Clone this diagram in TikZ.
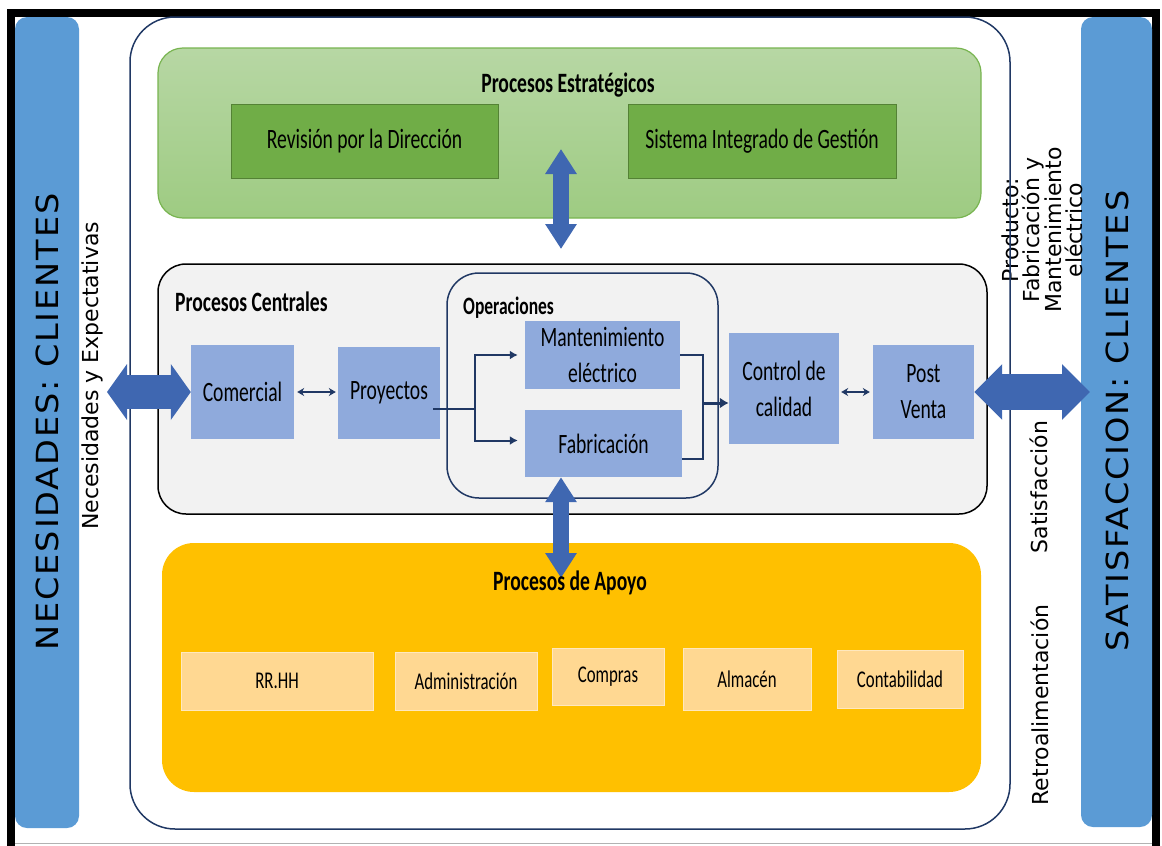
\documentclass[tikz,border=0pt]{standalone}
\usepackage{fontspec}
\setmainfont{Carlito}[FakeStretch=0.7]
\newfontfamily\sidefont{DejaVu Sans}
\newfontfamily\bandfont{DejaVu Sans}[FakeStretch=1.1,LetterSpace=6]
\usetikzlibrary{arrows.meta,positioning,calc}

\definecolor{bandblue}{RGB}{91,155,213}
\definecolor{arrowblue}{RGB}{63,103,177}
\definecolor{linenavy}{RGB}{32,56,100}
\definecolor{stratlight}{RGB}{183,215,164}
\definecolor{stratdark}{RGB}{158,203,130}
\definecolor{stratedge}{RGB}{120,180,80}
\definecolor{stratbox}{RGB}{112,173,71}
\definecolor{stratboxedge}{RGB}{84,130,53}
\definecolor{coregray}{RGB}{242,242,242}
\definecolor{procblue}{RGB}{143,170,220}
\definecolor{supyellow}{RGB}{255,192,0}
\definecolor{suppeach}{RGB}{255,216,146}

\newcommand\boxfont{\fontsize{28}{36}\selectfont}
\newcommand\smallboxfont{\fontsize{24}{30}\selectfont}

\tikzset{
  proc/.style={fill=procblue, inner sep=0pt, align=center, font=\boxfont},
  strat/.style={fill=stratbox, draw=stratboxedge, line width=1pt, inner sep=0pt, font=\boxfont},
  apoyo/.style={fill=suppeach, draw=suppeach!60!white, line width=1pt, inner sep=0pt, font=\smallboxfont},
  title/.style={font=\boxfont\bfseries, inner sep=0pt},
  sidetxt/.style={rotate=90, font=\sidefont\fontsize{22}{21}\selectfont, align=center, inner sep=0pt},
  band/.style={rotate=90, font=\bandfont\fontsize{30.5}{32}\selectfont, inner sep=0pt},
  bigarrow/.style={arrowblue, line width=#1},
  conn/.style={linenavy, line width=2pt},
}

\begin{document}
\begin{tikzpicture}[x=1pt, y=-1pt]
  \useasboundingbox (0,0) rectangle (1162,846);

  % frame
  \draw[gray!60, line width=1pt] (15,843.5) -- (1152,843.5);
  \draw[line width=8pt] (11,846) -- (11,12.5) -- (1156,12.5) -- (1156,846);

  % customer bands
  \fill[bandblue, rounded corners=12pt] (15,17) rectangle (79,828);
  \fill[bandblue, rounded corners=12pt] (1081,17) rectangle (1152,827);
  \node[band] (necesidades) at (47,422) {NECESIDADES: CLIENTES};
  \node[band] (satisfaccion) at (1117,421) {SATISFACCION: CLIENTES};

  % side labels
  \node[sidetxt] (expectativas) at (92,376) {Necesidades y Expectativas};
  \node[sidetxt] (producto) at (1042,230) {Producto:\\Fabricación y\\Mantenimiento\\eléctrico};
  \node[sidetxt] (satisf) at (1039,487) {Satisfacción};
  \node[sidetxt] (retro) at (1040,705) {Retroalimentación};

  % process map frame
  \draw[linenavy, line width=1.5pt, rounded corners=45pt] (130,17) rectangle (1010,829);

  % strategic processes
  \path[draw=stratedge, line width=1.2pt, top color=stratlight, bottom color=stratdark,
    rounded corners=25pt] (158,48) rectangle (981,218);
  \node[title] (estrategicos) at (568,85) {Procesos Estratégicos};
  \node[strat, minimum width=267pt, minimum height=74pt] (revision) at (364.5,141) {Revisión por la Dirección};
  \node[strat, minimum width=268pt, minimum height=74pt] (sig) at (762,141) {Sistema Integrado de Gestión};

  % core processes
  \draw[fill=coregray, line width=1.5pt, rounded corners=28pt] (158,264) rectangle (987,514);
  \node[title, anchor=west] (centrales) at (175,302) {Procesos Centrales};
  \draw[linenavy, line width=1.5pt, rounded corners=32pt] (447,273) rectangle (718,498);
  \node[title, anchor=west, font=\fontsize{25}{30}\selectfont\bfseries] (operaciones) at (463,308) {Operaciones};

  \node[proc, minimum width=103pt, minimum height=94pt] (comercial) at (242.5,392) {Comercial};
  \node[proc, minimum width=102pt, minimum height=92pt] (proyectos) at (389,393) {Proyectos};
  \node[proc, minimum width=155pt, minimum height=68pt] (mant) at (602.5,355) {Mantenimiento\\eléctrico};
  \node[proc, minimum width=157pt, minimum height=67pt] (fabric) at (603.5,443.5) {Fabricación};
  \node[proc, minimum width=110pt, minimum height=111pt] (control) at (784,388.5) {Control de\\calidad};
  \node[proc, minimum width=101pt, minimum height=94pt] (postventa) at (923.5,392) {Post\\Venta};

  \draw[conn, {Stealth[length=7pt,width=8pt]}-{Stealth[length=7pt,width=8pt]}, shorten <=3pt, shorten >=2pt]
    (comercial.east) -- (comercial.east -| proyectos.west);
  \draw[conn, {Stealth[length=7pt,width=8pt]}-{Stealth[length=7pt,width=8pt]}, shorten <=2pt, shorten >=3pt]
    (control.east |- postventa.west) -- (postventa.west);

  % split into operations and merge towards quality control
  \coordinate (split) at (475,409);
  \coordinate (merge) at (703,403);
  \draw[conn] ([xshift=-7pt,yshift=-16pt]proyectos.east) -- (split);
  \draw[conn, -{Latex[length=8pt,width=9pt]}, shorten >=7pt] (split) |- (mant.west);
  \draw[conn, -{Latex[length=8pt,width=9pt]}, shorten >=7pt] (split) |- ([yshift=3pt]fabric.west);
  \draw[conn] (mant.east) -| (merge);
  \draw[conn] ([yshift=-15pt]fabric.east) -| (merge);
  \draw[conn, line width=3pt, -{Latex[length=9pt,width=11pt]}] (merge) -- (merge -| control.west);

  % support processes
  \fill[supyellow, rounded corners=32pt] (162,543) rectangle (981,792);
  \node[apoyo, minimum width=192pt, minimum height=58pt] (rrhh) at (277,681) {RR.HH};
  \node[apoyo, minimum width=142pt, minimum height=58pt] (admin) at (466,681) {Administración};
  \node[apoyo, minimum width=112pt, minimum height=57pt] (compras) at (608,676.5) {Compras};
  \node[apoyo, minimum width=128pt, minimum height=62pt] (almacen) at (747,679) {Almacén};
  \node[apoyo, minimum width=126pt, minimum height=58pt] (conta) at (900,679) {Contabilidad};

  % interfaces between process levels and customers
  \coordinate (estr-s) at (561,149);
  \coordinate (cent-n) at (561,249);
  \coordinate (apoyo-n) at (561,578);
  \coordinate (cli-in) at (107,392);
  \coordinate (cli-out) at (1090,392);
  \draw[bigarrow=16pt, {Triangle[length=25pt,width=30pt]}-{Triangle[length=25pt,width=30pt]}]
    (estr-s) -- (cent-n);
  \draw[bigarrow=16pt, {Triangle[length=25pt,width=30pt]}-{Triangle[length=25pt,width=30pt]}]
    (fabric.south -| apoyo-n) -- (apoyo-n);
  \draw[bigarrow=34pt, {Triangle[length=20pt,width=55pt]}-{Triangle[length=20pt,width=55pt]}]
    (cli-in) -- (comercial.west);
  \draw[bigarrow=36pt, {Triangle[length=28pt,width=54pt]}-{Triangle[length=28pt,width=54pt]}]
    (postventa.east) -- (cli-out);

  \node[title] (apoyo) at (570,583) {Procesos de Apoyo};
\end{tikzpicture}
\end{document}
